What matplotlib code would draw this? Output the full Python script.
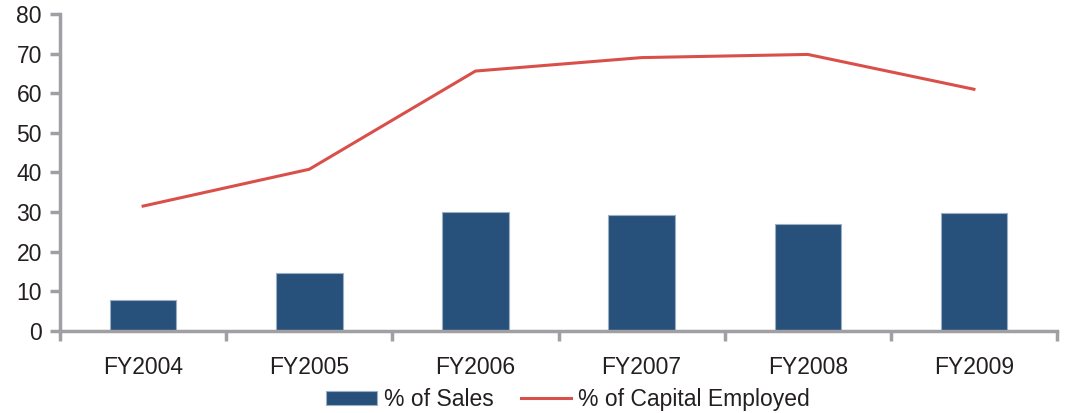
import matplotlib
matplotlib.use("Agg")
import matplotlib.pyplot as plt
import numpy as np

plt.rcParams['font.family'] = ['Liberation Sans', 'DejaVu Sans']

categories = ["FY2004", "FY2005", "FY2006", "FY2007", "FY2008", "FY2009"]
pct_sales = [7.8, 14.6, 30.0, 29.3, 27.0, 29.8]
pct_capital = [31.5, 40.8, 65.6, 69.0, 69.8, 61.0]
yticks = [0, 10, 20, 30, 40, 50, 60, 70, 80]

fig = plt.figure(figsize=(10.66, 4.13), dpi=100)
ax = fig.add_axes([0.0563, 0.199, 0.9353, 0.767])

x = np.arange(len(categories))
bars = ax.bar(x, pct_sales, width=0.4, color="#27507A", edgecolor="#9aaec6", linewidth=0.8,
              label="% of Sales", zorder=2)
line, = ax.plot(x, pct_capital, color="#D9504A", linewidth=2.2, label="% of Capital Employed", zorder=3)

ax.set_xlim(-0.5, len(categories) - 0.5)
ax.set_ylim(0, 80)
ax.set_yticks(yticks)
ax.set_yticklabels([str(v) for v in yticks], fontsize=16.5, color="#231F20")

ax.set_xticks(x)
ax.set_xticklabels(categories, fontsize=16.5, color="#231F20")
ax.tick_params(axis='x', length=0, pad=18)
ax.set_xticks(np.arange(-0.5, len(categories)), minor=True)
ax.tick_params(axis='x', which='minor', length=7, width=2.5, color="#A0A0A4", direction='out')
ax.tick_params(axis='y', length=7, width=2.5, color="#A0A0A4", direction='out', pad=6)

for side in ['top', 'right']:
    ax.spines[side].set_visible(False)
for side in ['left', 'bottom']:
    ax.spines[side].set_color("#A0A0A4")
    ax.spines[side].set_linewidth(2.5)

leg = fig.legend([bars, line], ["% of Sales", "% of Capital Employed"],
                 loc='lower center', bbox_to_anchor=(0.533, -0.045), ncol=2, frameon=False,
                 fontsize=16.5, handlelength=2.2, handleheight=0.6, columnspacing=1.2,
                 handletextpad=0.3)
for t in leg.get_texts():
    t.set_color("#231F20")

fig.savefig("out.png", dpi=100)
